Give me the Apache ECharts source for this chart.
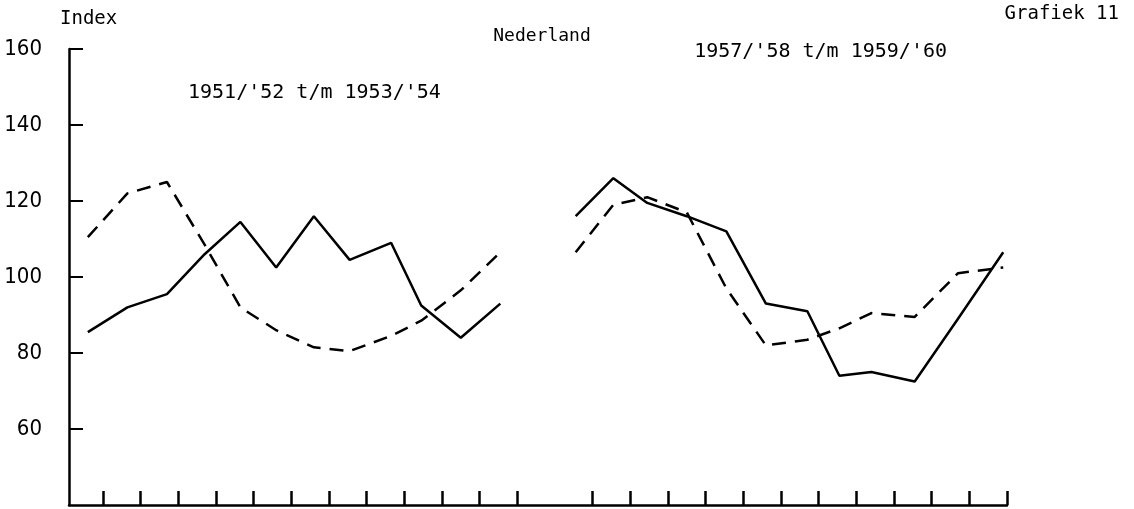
<!DOCTYPE html>
<html>
<head>
<meta charset="utf-8">
<script src="https://cdn.jsdelivr.net/npm/echarts@6/dist/echarts.min.js"></script>
<style>
  html, body { margin: 0; padding: 0; background: #fff; }
  #chart { width: 1134px; height: 509px; }
</style>
</head>
<body>
<div id="chart"></div>
<script>
// x positions (month slots, axis units)
const xPeriod1 = [0.6, 1.65, 2.7, 3.7, 4.65, 5.6, 6.6, 7.55, 8.65, 9.45, 10.5, 11.55];
const xPeriod2 = [13.55, 14.55, 15.45, 16.5, 17.55, 18.6, 19.7, 20.55, 21.4, 22.55, 23.7, 24.9];
// index values
const solid1 = [85.5, 92, 95.5, 106, 114.5, 102.5, 116, 104.5, 109, 92.5, 84, 93];
const dashed1 = [110.5, 122, 125, 108.5, 92, 86, 81.5, 80.5, 84.5, 88.5, 96.5, 106.5];
const solid2 = [116, 126, 119.5, 116, 112, 93, 91, 74, 75, 72.5, 89, 106.5];
const dashed2 = [106.5, 119, 121, 117, 97, 82, 83.5, 86.5, 90.5, 89.5, 101, 102.5];
// tick positions
const xTicks = [1, 2, 3, 4, 5, 6, 7, 8, 9, 10, 11, 12, 14, 15, 16, 17, 18, 19, 20, 21, 22, 23, 24, 25];
const yTicks = [60, 80, 100, 120, 140, 160];
// texts
const yAxisName = 'Index';
const chartTitle = 'Nederland';
const chartNumber = 'Grafiek 11';
const period1Label = "1951/'52 t/m 1953/'54";
const period2Label = "1957/'58 t/m 1959/'60";

const zip = (xs, ys) => xs.map((x, i) => [x, ys[i]]);
const mono = '"DejaVu Sans Mono", "Liberation Mono", monospace';
const narrow = '"Liberation Sans Narrow", "DejaVu Sans Condensed", "Liberation Sans", sans-serif';

const chart = echarts.init(document.getElementById('chart'), null, { renderer: 'canvas' });
const lineBase = { type: 'line', symbol: 'none', smooth: false, silent: true, animation: false };

chart.setOption({
  backgroundColor: '#ffffff',
  animation: false,
  grid: { left: 69, right: 127, top: 49, bottom: 4, containLabel: false, outerBoundsMode: 'none' },
  xAxis: {
    type: 'value', min: 0.1, max: 25,
    axisLine: { show: true, onZero: false, lineStyle: { color: '#000', width: 2.5 } },
    axisTick: { show: true, inside: true, length: 14, customValues: xTicks, lineStyle: { color: '#000', width: 2.5 } },
    axisLabel: { show: false },
    splitLine: { show: false }
  },
  yAxis: {
    type: 'value', min: 40, max: 160, interval: 20,
    axisLine: { show: true, lineStyle: { color: '#000', width: 2.5 } },
    axisTick: { show: true, inside: true, length: 14, customValues: yTicks, lineStyle: { color: '#000', width: 2 } },
    axisLabel: {
      show: true, customValues: yTicks, margin: 27, color: '#000',
      fontFamily: narrow, fontSize: 22
    },
    splitLine: { show: false }
  },
  graphic: [
    { type: 'text', left: 60, top: 10, style: { text: yAxisName, font: '19px ' + mono, fill: '#000' } },
    { type: 'text', x: 542, y: 36, style: { text: chartTitle, font: '18px ' + mono, fill: '#000', align: 'center', verticalAlign: 'middle' } },
    { type: 'text', x: 1119, y: 14, style: { text: chartNumber, font: '19px ' + mono, fill: '#000', align: 'right', verticalAlign: 'middle' } },
    { type: 'text', x: 188, y: 93, style: { text: period1Label, font: '20px ' + mono, fill: '#000', align: 'left', verticalAlign: 'middle' } },
    { type: 'text', x: 947, y: 52, style: { text: period2Label, font: '20px ' + mono, fill: '#000', align: 'right', verticalAlign: 'middle' } }
  ],
  series: [
    Object.assign({}, lineBase, { name: 's1', data: zip(xPeriod1, solid1), lineStyle: { color: '#000', width: 2.5, type: 'solid' } }),
    Object.assign({}, lineBase, { name: 'd1', data: zip(xPeriod1, dashed1), lineStyle: { color: '#000', width: 2.5, type: [14, 9] } }),
    Object.assign({}, lineBase, { name: 's2', data: zip(xPeriod2, solid2), lineStyle: { color: '#000', width: 2.5, type: 'solid' } }),
    Object.assign({}, lineBase, { name: 'd2', data: zip(xPeriod2, dashed2), lineStyle: { color: '#000', width: 2.5, type: [14, 9] } })
  ]
});
</script>
</body>
</html>
